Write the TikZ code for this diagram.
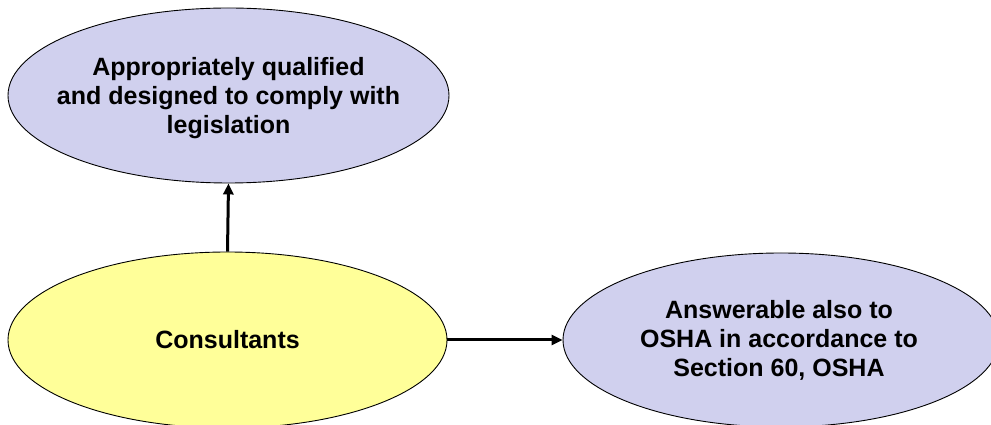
\documentclass[tikz,border=0pt]{standalone}
\usepackage{fontspec}
\setmainfont{Liberation Sans}
\usetikzlibrary{shapes.geometric,arrows.meta}
\definecolor{lav}{RGB}{208,208,238}
\definecolor{yel}{RGB}{255,255,153}
\begin{document}
\begin{tikzpicture}[x=1pt,y=1pt,
  oval/.style={ellipse,draw=black,line width=0.9pt,inner sep=0pt},
  ovaltext/.style={align=center,inner sep=0pt,font=\fontsize{25}{29}\selectfont\bfseries},
  conn/.style={line width=3pt,-{Triangle[length=11pt,width=10pt]}}]
\useasboundingbox (0,0) rectangle (991,425);
\fill[white] (0,0) rectangle (991,425);
\node[oval,fill=lav,minimum width=441pt,minimum height=175pt,
  label={[ovaltext,yshift=-3pt]center:Appropriately qualified\\and designed to comply with\\legislation}]
  (top) at (228.5,329.5) {};
\node[oval,fill=yel,minimum width=439pt,minimum height=176pt,
  label={[ovaltext]center:Consultants}]
  (cons) at (227.5,85) {};
\node[oval,fill=lav,minimum width=436pt,minimum height=174pt,
  label={[ovaltext,xshift=-2pt]center:Answerable also to\\OSHA in accordance to\\Section 60, OSHA}]
  (right) at (781,85) {};
\draw[conn] (cons.north) -- (top.south);
\draw[conn] (cons.east) -- (right.west);
\end{tikzpicture}
\end{document}
